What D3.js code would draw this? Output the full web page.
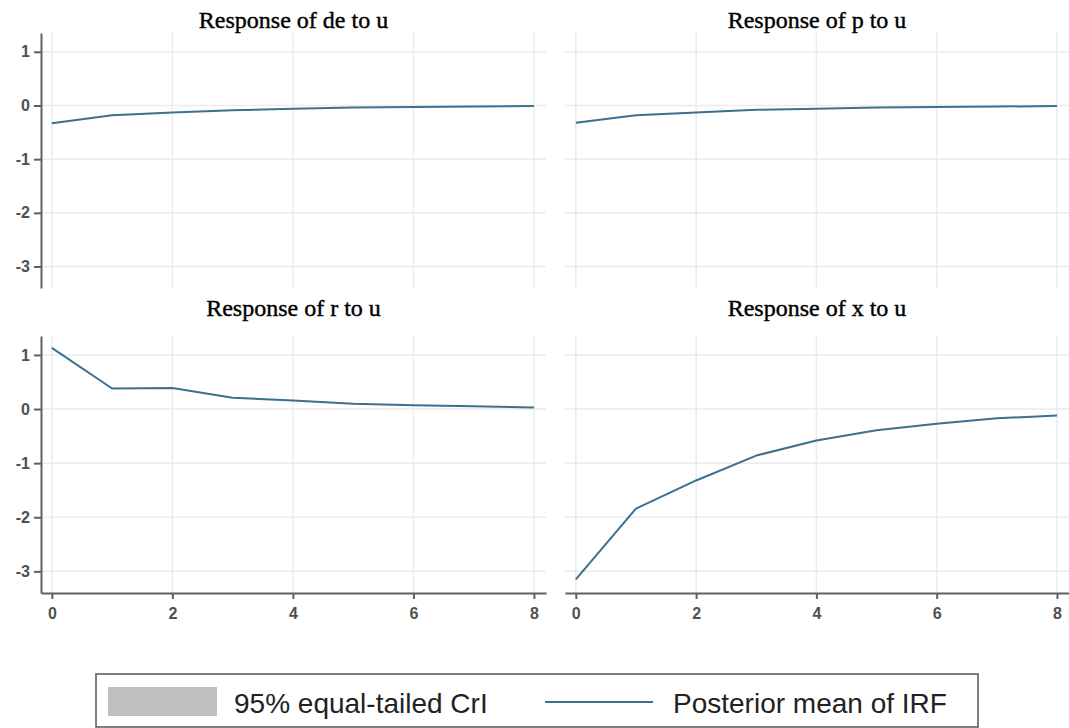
<!DOCTYPE html>
<html>
<head>
<meta charset="utf-8">
<script src="https://cdn.jsdelivr.net/npm/d3@7"></script>
<style>
  body { margin: 0; background: #fff; }
  .grid line { stroke: #ebebeb; stroke-width: 1.5px; }
  .axis path, .axis line { stroke: #606060; stroke-width: 2px; }
  .axis text { font-family: "Liberation Sans", Arial, sans-serif; font-size: 16px; font-weight: bold; fill: #505050; }
  .title { font-family: "Liberation Serif", "Times New Roman", serif; font-size: 24px; fill: #000; stroke: #000; stroke-width: 0.4px; }
  .legend text { font-family: "Liberation Sans", Arial, sans-serif; font-size: 28px; fill: #222; }
</style>
</head>
<body>
<div id="chart"></div>
<script>
var steps = [0, 1, 2, 3, 4, 5, 6, 7, 8];
var titles = ["Response of de to u", "Response of p to u", "Response of r to u", "Response of x to u"];
var deVals = [-0.33, -0.18, -0.13, -0.09, -0.06, -0.04, -0.03, -0.02, -0.01];
var pVals  = [-0.32, -0.18, -0.13, -0.08, -0.06, -0.04, -0.03, -0.02, -0.01];
var rVals  = [1.13, 0.38, 0.39, 0.21, 0.16, 0.10, 0.07, 0.05, 0.03];
var xVals  = [-3.15, -1.84, -1.32, -0.86, -0.58, -0.39, -0.27, -0.17, -0.12];
var xTicks = [0, 2, 4, 6, 8];
var yTicks = [-3, -2, -1, 0, 1];
var legendLabels = ["95% equal-tailed CrI", "Posterior mean of IRF"];

var width = 1069;
var height = 728;
var lineColor = "#3d6f8f";

var svg = d3.select("#chart").append("svg")
  .attr("width", width)
  .attr("height", height);

// panel boxes: left, top, width, height, title baseline
var panels = [
  {x: 41,  y: 33,  w: 505, h: 255, ty: 28,  vals: deVals, yAxis: true,  xAxis: false},
  {x: 565, y: 33,  w: 504, h: 255, ty: 28,  vals: pVals,  yAxis: false, xAxis: false},
  {x: 41,  y: 336, w: 505, h: 257, ty: 316, vals: rVals,  yAxis: true,  xAxis: true},
  {x: 565, y: 336, w: 504, h: 257, ty: 316, vals: xVals,  yAxis: false, xAxis: true}
];

var fmt = d => String(d);

panels.forEach(function(p, i) {
  var xScale = d3.scaleLinear().domain([-0.18, 8.2]).range([0, p.w]);
  var yScale = d3.scaleLinear().domain([-3.4, 1.35]).range([p.h, 0]);

  var g = svg.append("g").attr("transform", `translate(${p.x}, ${p.y})`);

  // gridlines
  var grid = g.append("g").attr("class", "grid");
  grid.selectAll(".hg").data(yTicks).enter().append("line")
    .attr("x1", 0).attr("x2", p.w)
    .attr("y1", d => yScale(d)).attr("y2", d => yScale(d));
  grid.selectAll(".vg").data(xTicks).enter().append("line")
    .attr("y1", 0).attr("y2", p.h)
    .attr("x1", d => xScale(d)).attr("x2", d => xScale(d));

  var line = d3.line()
    .x((d, j) => xScale(steps[j]))
    .y(d => yScale(d));

  g.append("path")
    .datum(p.vals)
    .attr("d", line)
    .attr("fill", "none")
    .attr("stroke", lineColor)
    .attr("stroke-width", 2)
    .attr("stroke-linejoin", "round");

  if (p.yAxis) {
    g.append("g")
      .attr("class", "axis")
      .call(d3.axisLeft(yScale).tickValues(yTicks).tickFormat(fmt)
        .tickSize(7).tickSizeOuter(0).tickPadding(4));
  }
  if (p.xAxis) {
    g.append("g")
      .attr("class", "axis")
      .attr("transform", `translate(0, ${p.h})`)
      .call(d3.axisBottom(xScale).tickValues(xTicks).tickFormat(fmt)
        .tickSize(6).tickSizeOuter(0).tickPadding(9));
  }

  svg.append("text")
    .attr("class", "title")
    .attr("text-anchor", "middle")
    .attr("x", p.x + p.w / 2)
    .attr("y", p.ty)
    .text(titles[i]);
});

// legend
var legend = svg.append("g").attr("class", "legend");
legend.append("rect")
  .attr("x", 96).attr("y", 674)
  .attr("width", 882).attr("height", 53)
  .attr("fill", "#fff")
  .attr("stroke", "#555")
  .attr("stroke-width", 1.5);
legend.append("rect")
  .attr("x", 108).attr("y", 687)
  .attr("width", 109).attr("height", 29)
  .attr("fill", "#bfbfbf");
legend.append("text")
  .attr("x", 234).attr("y", 713)
  .text(legendLabels[0]);
legend.append("line")
  .attr("x1", 545).attr("x2", 653)
  .attr("y1", 702).attr("y2", 702)
  .attr("stroke", lineColor)
  .attr("stroke-width", 2);
legend.append("text")
  .attr("x", 673).attr("y", 713)
  .text(legendLabels[1]);
</script>
</body>
</html>
